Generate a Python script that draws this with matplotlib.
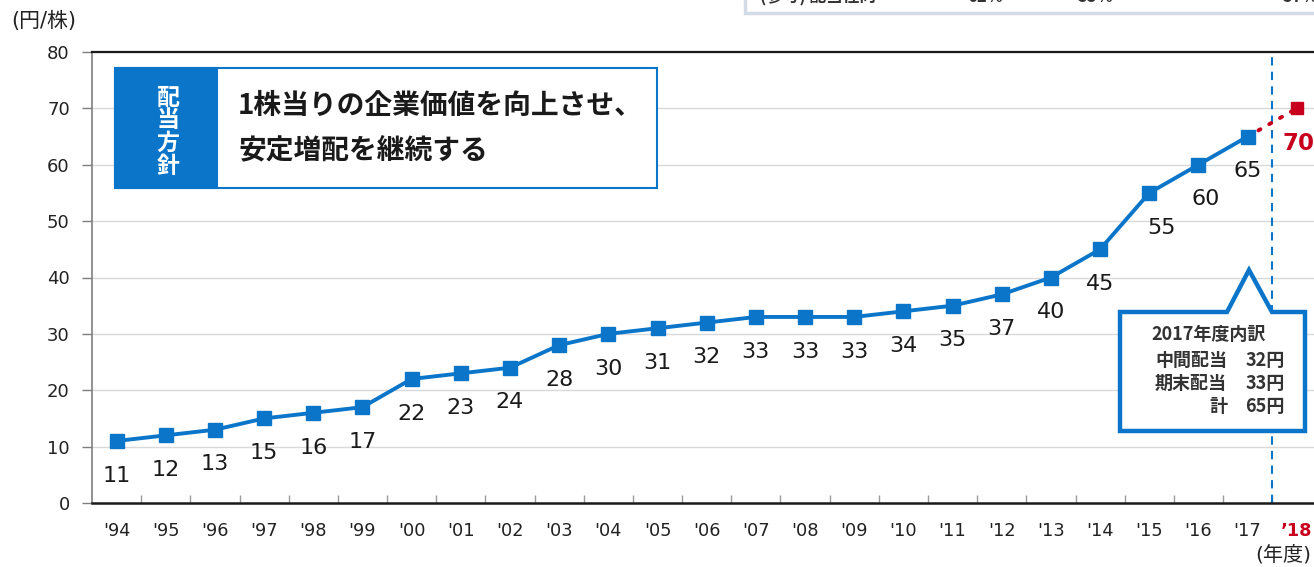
import matplotlib
matplotlib.use("Agg")
import matplotlib.pyplot as plt
from matplotlib.patches import Rectangle, Polygon

plt.rcParams['font.family'] = ['DejaVu Sans', 'Noto Sans CJK JP']

# ---- data ----
years = ["'94", "'95", "'96", "'97", "'98", "'99", "'00", "'01", "'02", "'03",
         "'04", "'05", "'06", "'07", "'08", "'09", "'10", "'11", "'12", "'13",
         "'14", "'15", "'16", "'17"]
dividends = [11, 12, 13, 15, 16, 17, 22, 23, 24, 28, 30, 31, 32, 33, 33, 33,
             34, 35, 37, 40, 45, 55, 60, 65]
plan_year = "’18"
plan_dividend = 70
yticks = [0, 10, 20, 30, 40, 50, 60, 70, 80]

policy_title = "配当方針"
policy_lines = ["1株当りの企業価値を向上させ、", "安定増配を継続する"]
breakdown_title = "2017年度内訳"
breakdown_rows = [("中間配当", "32円"), ("期末配当", "33円"), ("計", "65円")]
payout_label = "(参考) 配当性向"
payout_values = ["62%", "55%", "57%"]

BLUE = "#0B76C9"
RED = "#C8001E"
W, H = 1314, 567
DPI = 100

fig = plt.figure(figsize=(W / DPI, H / DPI), dpi=DPI)


def fx(x):
    return x / W


def fy(y):
    return 1 - y / H


ax = fig.add_axes([fx(92), fy(503), 1 - fx(92), fy(52) - fy(503)])

n = len(years)
xs = list(range(n))
ax.set_xlim(-0.5, 24.35)
ax.set_ylim(0, 80)

# grid
ax.set_yticks(yticks)
ax.yaxis.grid(True, color="#D9D9D9", lw=1.0, zorder=0)
ax.set_axisbelow(True)

# spines
ax.spines['right'].set_visible(False)
ax.spines['top'].set_color("#1a1a1a")
ax.spines['top'].set_linewidth(1.6)
ax.spines['bottom'].set_color("#1a1a1a")
ax.spines['bottom'].set_linewidth(1.8)
ax.spines['left'].set_color("#7f7f7f")
ax.spines['left'].set_linewidth(1.2)

# ticks
all_labels = years + [plan_year]
ax.set_xticks(range(n + 1))
ax.set_xticklabels(all_labels, fontsize=12.8, color="#222222")
ax.tick_params(axis='x', which='major', length=0, pad=14)
ax.set_xticks([i + 0.5 for i in range(n)], minor=True)
ax.tick_params(axis='x', which='minor', direction='in', length=6,
               color="#9a9a9a", width=1)
ax.tick_params(axis='y', length=7, color="#7f7f7f", width=1, pad=9,
               labelsize=13, labelcolor="#222222")
last = ax.get_xticklabels()[-1]
last.set_color(RED)
last.set_fontweight('bold')

# divider between results and plan
ax.axvline(n - 0.5, color=BLUE, lw=1.5, ls=(0, (4, 3)), zorder=2)

# plan segment
ax.plot([n - 1, n], [dividends[-1], plan_dividend], color=RED, lw=2.8,
        ls=(0, (0.6, 2.6)), dash_capstyle='round', zorder=3)
ax.plot([n], [plan_dividend], marker='s', ms=9, color=RED, ls='none', zorder=4)

# results series
ax.plot(xs, dividends, color=BLUE, lw=2.8, marker='s', ms=9.5,
        markerfacecolor=BLUE, markeredgecolor=BLUE, zorder=4)

nudge = {21: 9, 22: 5}
for i, v in enumerate(dividends):
    ax.annotate(f"{v}", (i, v), xytext=(nudge.get(i, 0), -25),
                textcoords='offset points', ha='center', va='center',
                fontsize=16, color="#1a1a1a", zorder=5)
ax.annotate(f"{plan_dividend}", (n, plan_dividend), xytext=(1, -25),
            textcoords='offset points', ha='center', va='center',
            fontsize=16.5, color=RED, fontweight='bold', zorder=5)

# unit labels
fig.text(fx(44), fy(21), "(円/株)", ha='center', va='center', fontsize=15,
         color="#222222")
fig.text(fx(1311), fy(555), "(年度)", ha='right', va='center', fontsize=14.5,
         color="#222222")

# policy box
fig.add_artist(Rectangle((fx(115), fy(188)), fx(657) - fx(115),
                         fy(68) - fy(188), transform=fig.transFigure,
                         facecolor='white', edgecolor=BLUE, lw=1.5, zorder=6))
fig.add_artist(Rectangle((fx(115), fy(188)), fx(217) - fx(115),
                         fy(68) - fy(188), transform=fig.transFigure,
                         facecolor=BLUE, edgecolor=BLUE, lw=1.5, zorder=7))
for k, ch in enumerate(policy_title):
    fig.text(fx(168), fy(98 + 22.7 * k), ch, ha='center', va='center',
             fontsize=16.5, color='white', fontweight='bold',
             family=['Noto Sans CJK JP'], zorder=8)

for k, line in enumerate(policy_lines):
    fig.text(fx(238), fy(106 + 44 * k), line, ha='left', va='center',
             fontsize=20, color="#1a1a1a", fontweight='bold',
             family=['Noto Sans CJK JP'], zorder=8)

# breakdown callout
pts = [(1120, 312), (1227, 312), (1249, 270), (1272, 312), (1305, 312),
       (1305, 431), (1120, 431)]
fig.add_artist(Polygon([(fx(x), fy(y)) for x, y in pts], closed=True,
                       transform=fig.transFigure, facecolor='white',
                       edgecolor=BLUE, lw=3.2, joinstyle='miter', zorder=6))
fig.text(fx(1151), fy(334), breakdown_title, ha='left', va='center',
         fontsize=13, fontweight='bold', color="#333333",
         family=['Noto Sans CJK JP'], zorder=8)
for k, (name, val) in enumerate(breakdown_rows):
    y = 360 + 23.5 * k
    fig.text(fx(1227), fy(y), name, ha='right', va='center', fontsize=13,
             fontweight='bold', color="#333333", family=['Noto Sans CJK JP'],
             zorder=8)
    fig.text(fx(1285), fy(y), val, ha='right', va='center', fontsize=13,
             fontweight='bold', color="#333333", family=['Noto Sans CJK JP'],
             zorder=8)

# payout ratio table strip along the top edge
fig.add_artist(Rectangle((fx(745), fy(13)), fx(1330) - fx(745), 0.1,
                         transform=fig.transFigure, facecolor='white',
                         edgecolor="#D3DCE6", lw=2.5, zorder=6))
fig.text(fx(760), fy(-3), payout_label, ha='left', va='center', fontsize=12,
         fontweight='bold', color="#333333", family=['Noto Sans CJK JP'],
         zorder=8)
for x, val in zip([985, 1095, 1300], payout_values):
    fig.text(fx(x), fy(-3), val, ha='center', va='center', fontsize=12,
             fontweight='bold', color="#333333", family=['Noto Sans CJK JP'],
             zorder=8)

fig.savefig("out.png", dpi=DPI)
